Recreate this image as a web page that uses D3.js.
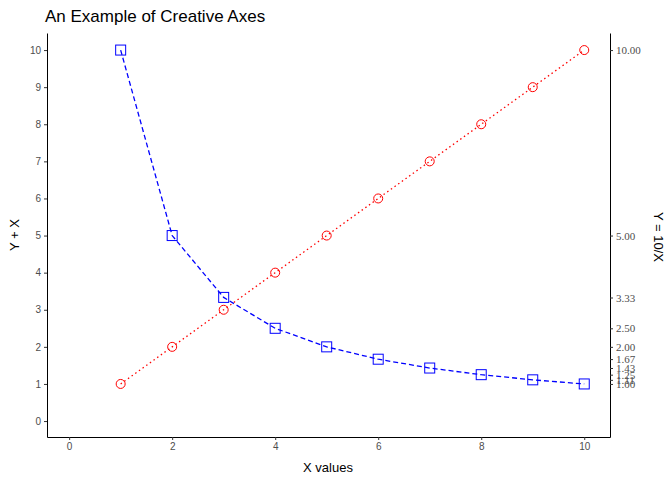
<!DOCTYPE html><html><head><script src="https://cdn.jsdelivr.net/npm/d3@7"></script>
<style>body{margin:0;background:#fff}</style></head><body><svg id="c" width="672" height="480"></svg>
<script>
const xs=[1,2,3,4,5,6,7,8,9,10];
const redY=[1,2,3,4,5,6,7,8,9,10];
const blueY=[10,5,3.333,2.5,2,1.667,1.429,1.25,1.111,1];
const xTicks=[0,2,4,6,8,10];
const yTicks=[0,1,2,3,4,5,6,7,8,9,10];
const rTicks=[10,5,3.33,2.5,2,1.67,1.43,1.25,1.11,1];
const svg=d3.select("#c");
const x=d3.scaleLinear().domain([-0.43,10.5]).range([47,610]);
const y=d3.scaleLinear().domain([-0.43,10.46]).range([437,33]);
const font="Helvetica, Liberation Sans, Arial, sans-serif";
const fmt=a=>{a.selectAll("text").attr("fill","#4d4d4d").style("font-family",font).style("font-size","10px");a.selectAll("line").attr("stroke","#333");a.select(".domain").attr("stroke","#000");};
svg.append("g").attr("transform","translate(0,437)").call(d3.axisBottom(x).tickValues(xTicks).tickSize(3).tickSizeOuter(0)).call(fmt);
svg.append("g").attr("transform","translate(47,0)").call(d3.axisLeft(y).tickValues(yTicks).tickSize(3).tickSizeOuter(0)).call(fmt);
const ra=svg.append("g").attr("transform","translate(610,0)").call(d3.axisRight(y).tickValues(rTicks).tickFormat(d3.format(".2f")).tickSize(3).tickSizeOuter(0)).call(fmt);
ra.selectAll("text").style("font-family","Liberation Serif, Times New Roman, serif").style("font-size","11px");
const line=d3.line().x((d,i)=>x(xs[i])).y(d=>y(d));
svg.append("path").attr("d",line(redY)).attr("fill","none").attr("stroke","red").attr("stroke-dasharray","1.5,3").attr("stroke-width",1.3);
svg.append("path").attr("d",line(blueY)).attr("fill","none").attr("stroke","blue").attr("stroke-dasharray","5,3").attr("stroke-width",1.3);
svg.selectAll(".r").data(redY).enter().append("circle").attr("cx",(d,i)=>x(xs[i])).attr("cy",d=>y(d)).attr("r",4.5).attr("fill","none").attr("stroke","red");
svg.selectAll(".b").data(blueY).enter().append("rect").attr("x",(d,i)=>x(xs[i])-5).attr("y",d=>y(d)-5).attr("width",10).attr("height",10).attr("fill","none").attr("stroke","blue");
svg.append("text").attr("x",45).attr("y",22).text("An Example of Creative Axes").style("font-family",font).style("font-size","17px");
svg.append("text").attr("x",328).attr("y",472).attr("text-anchor","middle").text("X values").style("font-family",font).style("font-size","13px");
svg.append("text").attr("transform","translate(19,235) rotate(-90)").attr("text-anchor","middle").text("Y + X").style("font-family",font).style("font-size","13px");
svg.append("text").attr("transform","translate(654,237) rotate(90)").attr("text-anchor","middle").text("Y = 10/X").style("font-family",font).style("font-size","13px");
</script></body></html>
